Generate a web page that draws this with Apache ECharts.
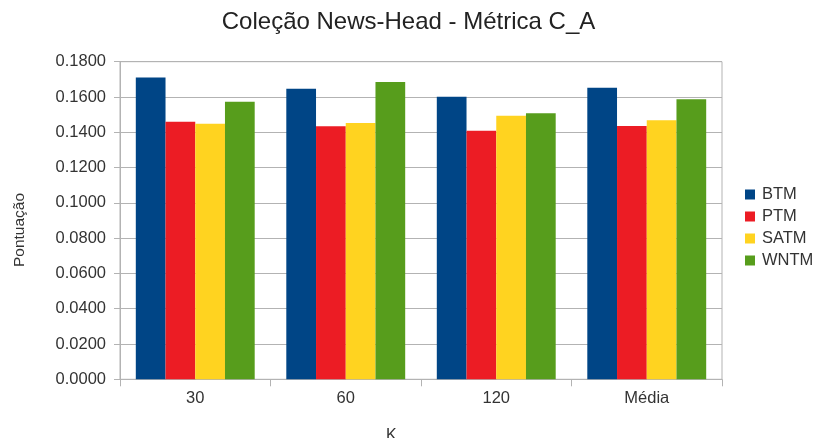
<!DOCTYPE html>
<html>
<head>
<meta charset="utf-8">
<script src="https://cdn.jsdelivr.net/npm/echarts@6/dist/echarts.min.js"></script>
<style>
  html, body { margin: 0; padding: 0; background: #fff; }
  #chart { width: 817px; height: 438px; }
</style>
</head>
<body>
<div id="chart"></div>
<script>
// Scores per value of K (and the average), one array per topic model
const categories = ['30', '60', '120', 'Média'];
const btm  = [0.1710, 0.1647, 0.1602, 0.1653];
const ptm  = [0.1460, 0.1434, 0.1409, 0.1436];
const satm = [0.1449, 0.1453, 0.1494, 0.1468];
const wntm = [0.1573, 0.1685, 0.1508, 0.1587];
const yTicks = ['0.0000', '0.0200', '0.0400', '0.0600', '0.0800', '0.1000', '0.1200', '0.1400', '0.1600', '0.1800'];

const font = 'Liberation Sans, Arial, sans-serif';
const gridColor = '#b3b3b3';
const textColor = '#333';

const chart = echarts.init(document.getElementById('chart'));

function bar(name, data, color) {
  return {
    name: name,
    type: 'bar',
    data: data,
    barGap: '0%',
    barCategoryGap: '21%',
    itemStyle: { color: color },
    emphasis: { disabled: true }
  };
}

chart.setOption({
  animation: false,
  backgroundColor: '#ffffff',
  textStyle: { fontFamily: font },
  title: [
    {
      text: 'Coleção News-Head - Métrica C_A',
      left: 'center',
      top: 5,
      textStyle: { fontFamily: font, fontSize: 24, fontWeight: 'normal', color: '#222' }
    },
    {
      text: 'K',
      left: 381,
      top: 423,
      textStyle: { fontFamily: font, fontSize: 16, fontWeight: 'normal', color: textColor }
    }
  ],
  graphic: [
    {
      type: 'text',
      x: 20,
      y: 230,
      rotation: Math.PI / 2,
      style: {
        text: 'Pontuação',
        fontFamily: font,
        fontSize: 15.5,
        fill: textColor,
        textAlign: 'center',
        textVerticalAlign: 'middle'
      }
    }
  ],
  legend: {
    orient: 'vertical',
    left: 745,
    top: 186,
    padding: 0,
    itemWidth: 10,
    itemHeight: 10,
    itemGap: 5,
    icon: 'rect',
    textStyle: { fontFamily: font, fontSize: 16.5, color: textColor, padding: [0, 0, 0, 2] },
    data: ['BTM', 'PTM', 'SATM', 'WNTM']
  },
  grid: {
    left: 120,
    right: 95,
    top: 61.7,
    bottom: 58.7,
    show: true,
    borderColor: gridColor,
    borderWidth: 1
  },
  xAxis: {
    type: 'category',
    data: categories,
    axisLine: { lineStyle: { color: gridColor } },
    axisTick: { show: true, length: 7, lineStyle: { color: gridColor } },
    axisLabel: { fontFamily: font, fontSize: 16.5, color: textColor, margin: 11 }
  },
  yAxis: {
    type: 'value',
    min: 0,
    max: 0.18,
    interval: 0.02,
    axisLine: { show: true, lineStyle: { color: gridColor } },
    axisTick: { show: true, length: 6, lineStyle: { color: gridColor } },
    axisLabel: {
      fontFamily: font, fontSize: 16.5, color: textColor, margin: 14,
      formatter: function (v) { return yTicks[Math.round(v / 0.02)]; }
    },
    splitLine: { show: true, lineStyle: { color: gridColor } }
  },
  series: [
    bar('BTM', btm, '#004586'),
    bar('PTM', ptm, '#ec1c24'),
    bar('SATM', satm, '#ffd320'),
    bar('WNTM', wntm, '#579d1c')
  ]
});
</script>
</body>
</html>
